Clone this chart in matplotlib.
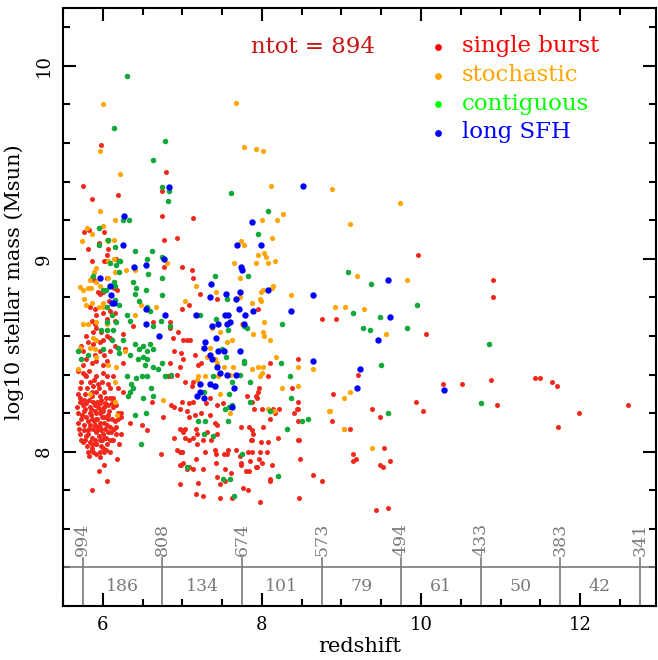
import numpy as np
import matplotlib.pyplot as plt
from matplotlib.ticker import MultipleLocator

plt.rcParams['font.family'] = 'DejaVu Serif'

# (redshift, log10 stellar mass) for each star formation history class
burst = [
    (5.98, 9.59), (6.80, 9.45), (5.75, 9.38), (5.86, 9.31), (6.19, 9.33), (6.75, 9.35), (6.75, 9.22),
    (7.13, 9.21), (5.76, 9.14), (5.83, 9.15), (6.01, 9.14), (5.95, 9.08), (6.06, 9.05), (5.81, 9.05),
    (6.05, 9.02), (6.17, 9.00), (5.87, 8.99), (6.77, 9.10), (6.77, 8.96), (6.93, 9.11), (7.00, 8.96),
    (7.12, 8.94), (7.14, 8.90), (7.22, 8.82), (8.75, 8.69), (9.96, 9.02), (10.90, 8.89), (10.90, 8.80),
    (8.93, 8.69), (10.06, 8.61), (9.21, 8.40), (8.89, 8.30), (8.88, 8.16), (9.03, 8.12), (9.11, 8.12),
    (9.38, 8.22), (9.48, 8.18), (9.15, 7.99), (9.14, 7.95), (9.18, 7.96), (9.54, 8.02), (9.48, 7.93),
    (9.52, 7.92), (9.61, 7.95), (9.43, 7.70), (9.59, 7.71), (10.28, 8.35), (10.52, 8.35), (9.94, 8.26),
    (10.03, 8.21), (10.88, 8.37), (10.95, 8.24), (11.43, 8.38), (11.50, 8.38), (11.65, 8.36),
    (11.71, 8.34), (11.72, 8.13), (11.98, 8.20), (12.60, 8.24),
    (6.01, 8.99), (6.03, 8.99), (5.86, 8.90), (5.89, 8.89), (6.05, 8.90), (6.18, 8.84), (6.14, 8.85),
    (5.94, 8.83), (5.96, 8.82), (6.00, 8.83), (6.08, 8.78), (6.11, 8.77),
    (7.43, 8.79), (7.95, 8.74), (6.99, 8.74), (7.09, 8.76),
    (8.45, 8.48), (8.38, 8.33), (8.45, 8.22), (8.47, 8.06), (8.48, 7.96), (8.64, 7.88), (8.75, 7.85),
    (5.84, 8.75), (5.90, 8.74), (5.92, 8.71), (6.00, 8.72), (6.09, 8.73), (6.15, 8.72), (6.05, 8.69),
    (6.15, 8.68), (5.86, 8.68), (5.90, 8.66), (6.85, 8.67), (6.63, 8.67), (6.38, 8.65),
    (5.79, 8.60), (5.88, 8.62), (5.92, 8.64), (5.98, 8.62), (6.05, 8.60), (6.09, 8.59), (5.73, 8.55),
    (5.81, 8.57), (5.88, 8.56), (5.96, 8.57), (6.00, 8.58), (5.75, 8.52), (5.90, 8.50), (5.96, 8.52),
    (6.02, 8.50), (6.09, 8.52), (6.15, 8.55), (5.79, 8.48), (5.86, 8.46), (5.92, 8.47), (6.05, 8.47),
    (6.00, 8.45), (5.75, 8.45), (6.25, 8.61), (6.28, 8.53), (6.25, 8.46), (6.95, 8.62), (6.90, 8.52),
    (6.88, 8.59), (6.84, 8.64), (6.84, 8.46), (6.82, 8.39), (6.93, 8.40), (6.97, 8.44),
    (5.69, 8.42), (5.75, 8.41), (5.79, 8.39), (5.73, 8.36), (5.92, 8.39), (6.00, 8.41), (6.05, 8.39),
    (6.13, 8.39), (5.94, 8.35), (5.88, 8.34), (6.09, 8.33), (6.19, 8.33), (6.25, 8.31), (5.69, 8.30),
    (5.96, 8.29), (6.09, 8.28), (6.13, 8.28), (6.86, 8.39),
    (5.71, 8.26), (5.75, 8.24), (5.79, 8.25), (5.84, 8.23), (5.90, 8.24), (5.96, 8.25), (6.02, 8.23),
    (6.07, 8.24), (5.77, 8.21), (5.84, 8.20), (5.90, 8.21), (5.96, 8.20), (6.02, 8.18), (6.07, 8.19),
    (6.13, 8.23), (6.17, 8.24), (6.19, 8.20), (5.69, 8.20), (5.73, 8.17), (5.79, 8.18), (5.86, 8.17),
    (5.92, 8.17), (5.69, 8.15), (5.77, 8.14), (5.84, 8.14), (5.90, 8.14), (5.96, 8.15), (6.05, 8.14),
    (6.09, 8.13), (6.17, 8.13), (5.81, 8.11), (5.88, 8.12), (5.92, 8.10), (5.98, 8.11), (6.07, 8.10),
    (5.73, 8.06), (5.79, 8.08), (5.86, 8.07), (5.90, 8.06), (5.96, 8.06), (6.02, 8.07), (6.09, 8.06),
    (6.13, 8.06), (6.23, 8.09), (5.75, 8.05), (5.84, 8.05), (5.92, 8.04), (5.98, 8.03), (6.05, 8.04),
    (6.21, 8.04), (5.81, 8.00), (5.88, 8.00), (5.92, 7.99), (5.96, 8.00), (6.02, 8.00), (6.09, 8.00),
    (5.86, 8.01), (6.00, 8.02), (6.11, 8.06), (6.18, 7.96), (6.01, 7.93), (5.95, 7.90), (6.05, 7.85),
    (5.86, 7.80), (6.15, 8.16), (6.19, 8.17), (6.23, 8.20), (6.17, 8.09), (6.23, 8.18),
    (5.72, 8.28), (5.78, 8.30), (5.83, 8.27), (5.87, 8.29), (5.91, 8.31), (5.97, 8.22), (6.04, 8.28),
    (5.82, 8.09), (5.94, 8.13), (5.99, 8.18), (5.85, 8.22), (5.93, 8.26), (6.03, 8.12), (5.76, 8.11),
    (5.80, 8.03), (5.95, 8.08), (6.11, 8.17), (5.68, 8.23), (5.87, 8.04), (6.00, 8.09),
    (5.70, 8.12), (5.74, 8.19), (5.78, 8.22), (5.81, 8.16), (5.83, 8.12), (5.85, 8.19), (5.88, 8.26),
    (5.89, 8.16), (5.91, 8.20), (5.93, 8.11), (5.94, 8.23), (5.97, 8.13), (5.98, 8.27), (6.00, 8.21),
    (6.01, 8.15), (6.03, 8.25), (6.04, 8.07), (6.06, 8.17), (6.08, 8.21), (6.10, 8.10), (6.12, 8.25),
    (5.76, 8.27), (5.80, 8.33), (5.84, 8.36), (5.86, 8.31), (5.89, 8.37), (5.95, 8.33), (5.99, 8.36),
    (6.02, 8.31), (6.07, 8.35), (5.71, 8.33), (5.78, 8.40), (5.83, 8.42), (5.87, 8.02), (5.91, 8.04),
    (5.78, 8.06), (5.97, 7.97), (6.04, 8.01), (5.83, 7.98), (6.14, 8.12), (5.72, 8.09), (5.99, 8.06),
    (5.93, 8.17),
    (6.34, 8.15), (6.49, 8.14), (6.56, 8.11), (6.62, 8.26), (6.76, 8.18), (6.86, 8.24), (6.90, 8.23),
    (6.97, 8.22), (6.90, 8.07), (6.99, 8.11), (6.93, 8.01), (7.00, 8.00), (6.98, 7.93), (6.73, 7.99),
    (6.97, 7.83),
    (7.06, 8.58), (7.10, 8.58), (7.01, 8.58), (7.16, 8.50), (7.01, 8.48), (6.98, 8.51), (7.24, 8.46),
    (7.20, 8.45), (8.10, 8.46), (8.08, 8.39), (7.97, 8.33), (7.81, 8.29), (7.92, 8.29), (7.87, 8.26),
    (7.94, 8.28), (7.95, 8.31), (7.14, 8.36), (7.12, 8.34), (7.03, 8.36), (7.35, 8.28), (7.30, 8.25),
    (8.45, 8.26), (8.21, 8.22),
    (6.99, 8.26), (7.08, 8.25), (7.14, 8.26), (7.06, 8.21), (7.16, 8.19), (7.24, 8.20), (7.35, 8.19),
    (7.43, 8.24), (7.51, 8.25), (7.90, 8.22), (8.00, 8.22), (8.14, 8.22), (8.16, 8.20), (8.41, 8.20),
    (8.44, 8.22), (7.09, 8.18), (7.41, 8.15), (7.44, 8.14), (7.74, 8.13), (7.84, 8.13), (7.88, 8.11),
    (7.89, 8.09), (8.02, 8.13), (8.10, 8.17), (8.46, 8.16), (6.97, 8.12), (7.03, 8.12), (7.17, 8.12),
    (7.01, 8.10), (7.18, 8.09), (7.31, 8.10), (7.44, 8.09), (7.03, 8.07), (7.14, 8.07), (7.08, 8.06),
    (7.18, 8.04), (7.26, 8.06), (7.36, 8.06), (7.88, 8.06), (7.86, 8.06), (7.99, 8.05), (8.08, 8.05),
    (8.20, 8.07), (8.45, 8.06), (6.97, 8.00), (7.00, 8.00), (7.17, 7.96), (7.29, 8.00), (7.41, 8.01),
    (7.42, 7.99), (7.52, 7.99), (7.56, 7.99), (7.58, 8.01), (7.68, 8.01), (7.73, 7.98), (7.83, 8.00),
    (7.87, 8.00), (7.98, 8.00), (8.07, 8.00), (7.85, 7.95), (7.97, 7.96), (8.00, 7.94), (8.13, 7.93),
    (7.74, 7.94), (6.97, 7.93), (7.01, 7.94), (7.08, 7.92), (7.06, 7.91), (7.14, 7.91), (7.26, 7.91),
    (7.42, 7.94), (7.54, 7.91), (7.61, 7.89), (7.74, 7.93), (7.80, 7.90), (7.84, 7.90), (7.92, 7.92),
    (7.94, 7.92), (7.43, 7.87), (7.54, 7.85), (8.10, 7.86), (8.10, 7.85), (7.20, 7.84), (7.48, 7.83),
    (7.76, 7.81), (7.82, 7.80), (7.17, 7.78), (7.26, 7.77), (7.47, 7.76), (7.63, 7.76), (7.98, 7.74),
    (8.47, 7.76),
]

stochastic = [
    (6.00, 9.80), (7.68, 9.81), (5.96, 9.56), (7.78, 9.58), (7.92, 9.57), (8.01, 9.56), (6.22, 9.44),
    (5.96, 9.25), (8.11, 9.375), (8.19, 9.20), (8.27, 9.23), (6.15, 9.20), (8.00, 9.20), (5.80, 9.16),
    (5.74, 9.09), (5.86, 9.13), (6.00, 9.17), (6.05, 9.10), (6.14, 9.10), (6.14, 9.00), (6.41, 8.94),
    (6.81, 8.98), (7.17, 8.86), (7.42, 8.83), (7.74, 9.09), (7.78, 9.07), (7.73, 8.90), (7.65, 8.98),
    (8.13, 9.11), (7.95, 9.02), (7.92, 8.98), (8.03, 9.03), (8.05, 9.01), (8.08, 8.98), (8.17, 8.99),
    (7.99, 8.83), (8.02, 8.84), (8.13, 8.85), (8.14, 8.86), (8.36, 8.81), (8.03, 8.67), (7.88, 8.77),
    (8.88, 9.36), (9.74, 9.29), (9.11, 9.18), (9.20, 8.91), (9.82, 8.89), (8.92, 8.75), (9.04, 8.75),
    (9.28, 8.74), (9.56, 8.61), (9.03, 8.28), (9.11, 8.31), (8.86, 8.21), (9.03, 8.12), (9.39, 8.02),
    (6.07, 9.09), (6.06, 8.99), (6.29, 8.94), (6.15, 8.93), (5.91, 8.95), (5.89, 8.93), (5.84, 8.89),
    (5.91, 8.88), (5.97, 8.86), (6.06, 8.90), (5.71, 8.855), (5.75, 8.84), (5.81, 8.85), (5.85, 8.85),
    (5.77, 8.79), (6.00, 8.77), (5.87, 8.77), (5.79, 8.76), (6.48, 8.76),
    (7.72, 8.80), (7.98, 8.79), (7.99, 8.78), (7.04, 8.78),
    (8.64, 8.43), (8.45, 8.44), (8.25, 8.33), (8.84, 8.21),
    (5.95, 8.75), (6.00, 8.75), (5.92, 8.67), (5.75, 8.66), (5.81, 8.66), (6.05, 8.66), (6.67, 8.75),
    (6.40, 8.71), (5.88, 8.59), (5.92, 8.58), (5.84, 8.54), (5.90, 8.53), (5.71, 8.54), (5.92, 8.49),
    (6.07, 8.45), (6.17, 8.44), (6.28, 8.52), (5.69, 8.43), (6.15, 8.36), (5.84, 8.30), (6.76, 8.27),
    (6.15, 8.26), (6.18, 8.19),
    (7.75, 8.66), (7.89, 8.61), (8.02, 8.62), (8.03, 8.60), (8.10, 8.58), (7.37, 8.64), (7.48, 8.62),
    (7.63, 8.58), (7.56, 8.57), (7.26, 8.54), (7.35, 8.54), (7.31, 8.49), (7.41, 8.48), (7.43, 8.46),
    (7.45, 8.39), (7.52, 8.44), (7.64, 8.44), (7.60, 8.40), (7.87, 8.43), (7.95, 8.44), (8.01, 8.44),
    (8.00, 8.41), (7.98, 8.39), (8.18, 8.49), (8.45, 8.34), (7.20, 8.39), (7.29, 8.39), (7.18, 8.37),
    (7.47, 8.30), (7.60, 8.20), (8.08, 8.22), (8.15, 8.21),
]

contiguous = [
    (6.30, 9.95), (6.14, 9.68), (6.78, 9.61), (6.63, 9.51), (6.75, 9.37), (6.83, 9.35), (6.82, 9.30),
    (7.61, 9.34), (8.08, 9.25), (6.25, 9.20), (6.33, 9.20), (5.95, 9.16), (5.95, 9.07), (6.15, 9.06),
    (6.21, 8.99), (6.40, 9.04), (6.62, 9.04), (6.55, 9.00), (6.57, 8.92), (6.74, 9.01), (6.75, 8.90),
    (6.75, 8.81), (7.41, 8.91), (7.56, 8.79), (7.82, 8.91), (7.95, 9.13), (8.25, 8.66),
    (9.08, 8.93), (9.37, 8.87), (9.95, 8.76), (9.14, 8.72), (9.49, 8.70), (9.27, 8.64), (9.36, 8.63),
    (9.83, 8.64), (10.85, 8.56), (9.50, 8.45), (9.59, 8.20), (10.75, 8.25),
    (6.06, 9.10), (6.09, 8.98), (6.22, 8.99), (6.17, 8.97), (6.21, 8.93), (5.88, 8.91), (6.14, 8.88),
    (6.15, 8.86), (6.38, 8.88), (6.42, 8.85), (6.54, 8.84), (6.41, 8.82), (6.00, 8.84), (6.04, 8.84),
    (6.21, 8.76), (6.16, 8.785), (6.55, 8.75), (6.46, 8.78),
    (8.35, 8.39), (8.58, 8.17), (8.50, 8.16), (8.32, 8.12), (8.20, 7.875),
    (6.05, 8.75), (6.11, 8.71), (6.05, 8.67), (6.17, 8.67), (6.34, 8.68), (6.30, 8.71), (6.60, 8.73),
    (6.63, 8.65), (6.73, 8.68), (6.84, 8.65), (5.69, 8.52), (5.73, 8.48), (5.81, 8.50), (6.00, 8.53),
    (6.05, 8.63), (5.98, 8.63), (6.13, 8.63), (6.11, 8.58), (6.25, 8.58), (6.19, 8.54), (6.21, 8.51),
    (6.34, 8.50), (6.40, 8.56), (6.51, 8.55), (6.46, 8.53), (6.55, 8.52), (6.63, 8.53), (6.59, 8.56),
    (6.55, 8.48), (6.51, 8.49), (6.44, 8.48), (6.53, 8.45), (6.63, 8.44), (6.69, 8.43), (6.74, 8.46),
    (6.78, 8.39), (6.86, 8.40), (6.30, 8.39), (6.36, 8.35), (6.38, 8.33), (6.42, 8.38), (6.49, 8.39),
    (6.55, 8.39), (6.34, 8.31), (6.32, 8.29), (6.61, 8.33), (6.51, 8.28), (6.63, 8.29),
    (6.40, 8.19), (6.54, 8.20), (6.48, 8.04),
    (7.22, 8.71), (7.42, 8.69), (7.77, 8.65), (7.81, 8.64), (7.58, 8.63), (7.50, 8.53), (7.55, 8.49),
    (7.78, 8.47), (7.77, 8.46), (7.38, 8.39), (7.62, 8.36), (7.73, 8.40), (7.85, 8.36), (8.24, 8.46),
    (8.37, 8.28), (7.40, 8.34), (7.27, 8.31), (7.59, 8.30), (7.85, 8.26), (7.63, 8.24), (7.59, 8.23),
    (7.54, 8.22), (8.10, 8.21),
    (7.20, 8.16), (7.29, 8.16), (7.57, 8.16), (7.27, 8.09), (7.39, 8.08), (7.75, 7.99), (7.06, 7.92),
    (7.51, 7.86), (7.60, 7.86), (7.65, 7.77),
]

long_sfh = [
    (6.83, 9.37), (8.52, 9.38), (6.27, 9.22), (7.87, 9.19), (6.26, 9.07), (6.39, 8.96), (6.54, 8.97),
    (6.77, 9.00), (7.36, 8.87), (7.35, 8.80), (7.55, 8.82), (7.67, 8.79), (7.69, 9.07), (7.74, 8.96),
    (7.75, 8.94), (7.99, 9.07), (8.08, 8.84), (8.64, 8.81), (8.36, 8.73), (7.89, 8.73), (7.79, 8.71),
    (7.71, 8.74), (9.58, 8.89), (9.61, 8.70), (9.46, 8.58), (9.23, 8.43), (9.20, 8.33), (10.29, 8.32),
    (5.97, 8.90), (6.09, 8.86), (6.10, 8.81), (6.14, 8.77), (6.12, 8.77), (7.73, 8.83), (8.64, 8.47),
    (6.54, 8.74), (6.54, 8.66), (6.78, 8.71), (6.71, 8.60),
    (7.17, 8.71), (7.54, 8.71), (7.58, 8.71), (7.56, 8.66), (7.60, 8.67), (7.78, 8.66), (7.37, 8.65),
    (7.45, 8.66), (7.42, 8.59), (7.29, 8.57), (7.27, 8.54), (7.35, 8.50), (7.37, 8.48), (7.45, 8.52),
    (7.52, 8.52), (7.72, 8.52), (7.44, 8.44), (7.48, 8.41), (7.56, 8.40), (7.68, 8.40), (7.22, 8.35),
    (7.35, 8.35), (7.41, 8.34), (7.18, 8.29), (7.27, 8.28), (7.65, 8.33), (7.22, 8.31), (7.62, 8.23),
]

# age of the universe (Myr) at the marked redshifts
age_z = [5.75, 6.75, 7.75, 8.75, 9.75, 10.75, 11.75, 12.75]
age_myr = [994, 808, 674, 573, 494, 433, 383, 341]

n_total = 894
labels = ['single burst', 'stochastic', 'contiguous', 'long SFH']


def main():

    fig = plt.figure(figsize=(6.58, 6.60), dpi=100)
    ax = fig.add_axes([0.0957, 0.0818, 0.9020, 0.9060])

    groups = [
        (burst, '#f2281c', 13),
        (stochastic, '#ffa500', 14),
        (contiguous, '#12a83a', 16),
        (long_sfh, '#0000ff', 21),
    ]
    for pts, col, size in groups:
        pts = np.array(pts)
        ax.scatter(pts[:, 0], pts[:, 1], s=size, color=col, linewidths=0, zorder=3)

    # legend drawn by hand: dot + coloured text
    key_colors = ['#ff0000', '#ffa500', '#00ff00', '#0000ff']
    for i, (lab, col) in enumerate(zip(labels, key_colors)):
        yy = 10.10 - 0.15 * i
        ax.scatter([10.21], [yy], s=24, color=col, linewidths=0, zorder=4)
        ax.text(10.51, yy + 0.005, lab, color=col, fontsize=16.5, va='center', ha='left')

    ax.text(7.86, 10.10, 'ntot = ' + str(n_total), color='#c81414', fontsize=16.5,
            va='center', ha='left')

    # age strip along the bottom
    grey = '#7a7a7a'
    ax.axhline(7.4, color=grey, lw=1.2, zorder=2)
    for zz, age in zip(age_z, age_myr):
        ax.plot([zz, zz], [7.2, 7.45], color=grey, lw=1.2, zorder=2)
        ax.text(zz, 7.46, str(age), rotation=90, ha='center', va='bottom',
                color=grey, fontsize=12.5)
    dt = -np.diff(age_myr)
    mids = (np.array(age_z[:-1]) + np.array(age_z[1:])) / 2
    for zz, d in zip(mids, dt):
        ax.text(zz, 7.30, str(d), ha='center', va='center', color=grey, fontsize=12.5)

    ax.set_xlim(5.5, 12.96)
    ax.set_ylim(7.2, 10.3)

    ax.xaxis.set_major_locator(MultipleLocator(2))
    ax.xaxis.set_minor_locator(MultipleLocator(0.5))
    ax.yaxis.set_major_locator(MultipleLocator(1))
    ax.yaxis.set_minor_locator(MultipleLocator(0.2))
    ax.tick_params(which='both', direction='in', top=True, right=True, width=1.5)
    ax.tick_params(which='major', length=9.5, labelsize=13, pad=7)
    ax.tick_params(which='minor', length=5)
    for lbl in ax.get_yticklabels():
        lbl.set_rotation(90)
        lbl.set_va('center')
    for sp in ax.spines.values():
        sp.set_linewidth(1.5)

    ax.set_xlabel('redshift', fontsize=15, labelpad=2)
    ax.set_ylabel('log10 stellar mass (Msun)', fontsize=15)
    ax.yaxis.set_label_coords(-0.066, 0.542)

    fig.savefig('out.png', dpi=100)


if __name__ == "__main__":
    main()
